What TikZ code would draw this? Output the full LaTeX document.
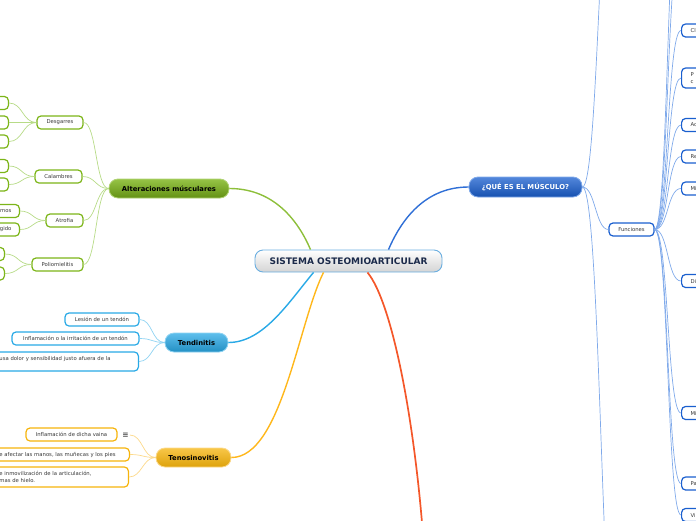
\documentclass[tikz,border=0pt]{standalone}
\usepackage{fontspec}
\setmainfont{DejaVu Sans}

\definecolor{hubline}{HTML}{6AAEE0}
\definecolor{hubtext}{HTML}{1B2A4A}
\definecolor{altgreen}{HTML}{7CB518}
\definecolor{altlight}{HTML}{B7DB87}
\definecolor{altmain}{HTML}{8DBF3A}
\definecolor{tendblue}{HTML}{29A9E6}
\definecolor{tendlight}{HTML}{8FD3F2}
\definecolor{tenoorange}{HTML}{F6B40C}
\definecolor{tenolight}{HTML}{FCD98A}
\definecolor{tenomain}{HTML}{FFB71B}
\definecolor{quedark}{HTML}{1A5FCF}
\definecolor{quelight}{HTML}{7FA9EA}
\definecolor{quemain}{HTML}{2F6FD6}
\definecolor{redbranch}{HTML}{F4572A}
\definecolor{leaftext}{HTML}{383838}

\begin{document}
\begin{tikzpicture}[x=1pt,y=-1pt,
    hub/.style={draw=hubline,line width=0.9pt,rounded corners=8pt,top color=white,bottom color=black!17,
      minimum width=187pt,minimum height=22pt,inner sep=0pt,text=hubtext,
      font=\fontsize{9}{10}\selectfont\bfseries},
    topic/.style={rounded corners=9pt,line width=0.8pt,minimum height=19pt,inner sep=0pt,
      font=\fontsize{6.8}{8}\selectfont\bfseries},
    sub/.style={draw,fill=white,line width=1.2pt,rounded corners=4pt,minimum height=13pt,inner sep=0pt,
      text=leaftext,font=\fontsize{5.3}{6.6}\selectfont},
    cutleft/.style={sub,anchor=east,inner xsep=8pt,text width=#1,align=left},
    cutright/.style={sub,anchor=west,inner xsep=9pt,text width=#1,align=left},
    twig/.style={line width=0.7pt},
    branch/.style={line width=1.4pt}]

\useasboundingbox (0,0) rectangle (696,520);
\clip (0,0) rectangle (696,520);

% central topic
\node[hub] (sys) at (348.5,261) {SISTEMA OSTEOMIOARTICULAR};

% main topics
\node[topic,draw=altgreen!60,top color=altgreen!80!white,bottom color=altgreen!80!black,
  minimum width=120pt] (alt) at (169,188.5) {Alteraciones músculares};
\node[topic,draw=tendlight,top color=tendblue!75!white,bottom color=tendblue!85!black,
  minimum width=63pt] (tend) at (196.5,342.5) {Tendinitis};
\node[topic,draw=tenolight,top color=tenoorange!75!white,bottom color=tenoorange!90!black,
  minimum width=75pt] (teno) at (193.5,457.5) {Tenosinovitis};
\node[topic,draw=quelight,top color=quedark!75!white,bottom color=quedark!85!black,text=white,
  minimum width=113pt,minimum height=20pt] (que) at (525.5,187) {¿QUÉ ES EL MÚSCULO?};
\coordinate (redend) at (426,580);

% Alteraciones musculares
\node[sub,draw=altgreen,minimum width=46pt] (des) at (60,122.5) {Desgarres};
\node[sub,draw=altgreen,minimum width=47pt] (cal) at (58.5,176.5) {Calambres};
\node[sub,draw=altgreen,minimum width=37pt] (atr) at (64.5,220.5) {Atrofia};
\node[sub,draw=altgreen,minimum width=51pt] (pol) at (57.5,264.5) {Poliomielitis};

\node[cutleft=60pt,draw=altgreen] (d1) at (9,103) {};
\node[cutleft=60pt,draw=altgreen] (d2) at (9,122.5) {};
\node[cutleft=60pt,draw=altgreen] (d3) at (9,141.5) {};
\node[cutleft=60pt,draw=altgreen] (c1) at (9,166) {};
\node[cutleft=60pt,draw=altgreen] (c2) at (9,184.5) {};
\node[cutleft=60pt,draw=altgreen,align=right] (a1) at (20,211) {mos};
\node[cutleft=60pt,draw=altgreen,align=right] (a2) at (20,229.5) {gido};
\node[cutleft=60pt,draw=altgreen] (p1) at (5,254) {};
\node[cutleft=60pt,draw=altgreen] (p2) at (5,273.5) {};

% Tendinitis
\node[sub,draw=tendblue,minimum width=74pt] (t1) at (102,319.5) {Lesión de un tendón};
\node[sub,draw=tendblue,minimum width=127pt] (t2) at (75.5,338.5) {Inflamación o la irritación de un tendón};
\node[cutleft=131pt,draw=tendblue,minimum height=19pt] (t3) at (139,361.5)
  {usa dolor y sensibilidad justo afuera de la\\ \mbox{}};

% Tenosinovitis
\node[sub,draw=tenoorange,minimum width=91pt] (s1) at (71.5,434.5) {Inflamación de dicha vaina};
\node[inner sep=1pt,text=black!70,font=\fontsize{7.5}{8}\selectfont\bfseries] (s1note) at (125.5,435) {≡};
\node[cutleft=122pt,draw=tenoorange] (s2) at (130,454.5) {e afectar las manos, las muñecas y los pies};
\node[cutleft=121pt,draw=tenoorange,minimum height=20pt] (s3) at (129,477)
  {e inmovilización de la articulación,\\mas de hielo.};

% Que es el musculo
\node[sub,draw=quedark,minimum width=45pt] (fun) at (631.5,229.5) {Funciones};
\coordinate (qtop) at (615,-160);
\coordinate (qbot) at (620,700);

\node[cutright=40pt,draw=quedark] (f1) at (681,30.5) {Cl};
\node[cutright=40pt,draw=quedark,minimum height=20pt] (f2) at (681,78) {P\\c};
\node[cutright=40pt,draw=quedark] (f3) at (681,125) {Ac};
\node[cutright=40pt,draw=quedark] (f4) at (681,156.5) {Re};
\node[cutright=40pt,draw=quedark] (f5) at (681,188.5) {Mi};
\node[cutright=40pt,draw=quedark] (f6) at (681,281) {Di};
\node[cutright=40pt,draw=quedark] (f7) at (681,413) {Mi};
\node[cutright=40pt,draw=quedark] (f8) at (681,483.5) {Pa};
\node[cutright=40pt,draw=quedark] (f9) at (681,515) {Vi};
\coordinate (fa) at (681,-60);
\coordinate (fb) at (681,-130);

% main branches
\draw[branch,altmain] ([xshift=-38pt]sys.north) .. controls +(-15,-35) and +(40,0) .. (alt.east);
\draw[branch,quemain] ([xshift=40pt]sys.north) .. controls +(15,-35) and +(-40,0) .. (que.west);
\draw[branch,tendblue] ([xshift=-35pt]sys.south) .. controls +(-25,30) and +(35,0) .. (tend.east);
\draw[branch,tenomain] ([xshift=-25pt]sys.south) .. controls +(-25,50) and +(50,0) .. (teno.east);
\draw[line width=1.7pt,redbranch] ([xshift=19pt]sys.south) .. controls +(25,30) and +(-8,-150) .. (redend);

% twigs
\foreach \n in {des,cal,atr,pol}
  \draw[twig,altlight] (alt.west) .. controls +(-13,0) and +(13,0) .. (\n.east);
\foreach \n in {d1,d2,d3}
  \draw[twig,altlight] (des.west) .. controls +(-14,0) and +(14,0) .. (\n.east);
\foreach \n in {c1,c2}
  \draw[twig,altlight] (cal.west) .. controls +(-13,0) and +(13,0) .. (\n.east);
\foreach \n in {a1,a2}
  \draw[twig,altlight] (atr.west) .. controls +(-13,0) and +(13,0) .. (\n.east);
\foreach \n in {p1,p2}
  \draw[twig,altlight] (pol.west) .. controls +(-14,0) and +(14,0) .. (\n.east);

\foreach \n in {t1,t2,t3}
  \draw[twig,tendlight] (tend.west) .. controls +(-13,0) and +(13,0) .. (\n.east);
\foreach \n in {s1note,s2,s3}
  \draw[twig,tenolight] (teno.west) .. controls +(-13,0) and +(13,0) .. (\n.east);

\draw[twig,quelight] (que.east) .. controls +(13,0) and +(-13,0) .. (fun.west);
\draw[twig,quelight] (que.east) .. controls +(16,0) and +(-16,0) .. (qtop);
\draw[twig,quelight] (que.east) .. controls +(19,0) and +(-19,0) .. (qbot);
\foreach \n in {fa,fb}
  \draw[twig,quelight] (fun.east) .. controls +(14,0) and +(-14,0) .. (\n);
\foreach \n in {f1,f2,f3,f4,f5,f6,f7,f8,f9}
  \draw[twig,quelight] (fun.east) .. controls +(14,0) and +(-14,0) .. (\n.west);

\end{tikzpicture}
\end{document}
